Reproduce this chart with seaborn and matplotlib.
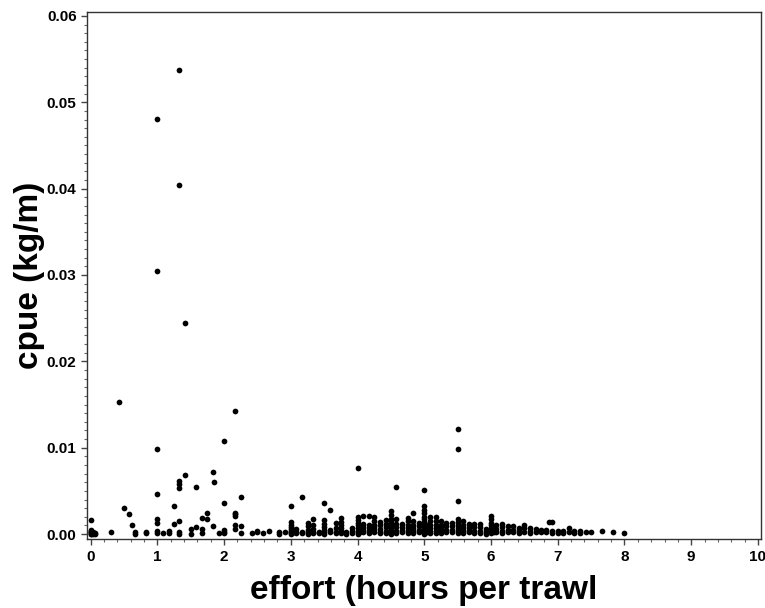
import matplotlib
matplotlib.use("Agg")
import matplotlib.pyplot as plt
from matplotlib.ticker import MultipleLocator, FormatStrFormatter
import seaborn as sns
import pandas as pd

# efforts below 3 h (sparse trawls)
low_effort = [0.0, 0.0, 0.0, 0.0, 0.0, 0.0, 0.0, 0.0, 0.03, 0.03, 0.03, 0.06, 0.06,
              0.31, 0.42, 0.5, 0.58, 0.62, 0.67, 0.67, 0.83, 0.83,
              1.0, 1.0, 1.0, 1.0, 1.0, 1.0, 1.0, 1.0, 1.08, 1.17, 1.17, 1.25, 1.25,
              1.33, 1.33, 1.33, 1.33, 1.33, 1.33, 1.33, 1.33, 1.42, 1.42, 1.5, 1.5,
              1.58, 1.58, 1.67, 1.67, 1.67, 1.75, 1.75, 1.83, 1.83, 1.85, 1.92,
              2.0, 2.0, 2.0, 2.0, 2.0, 2.17, 2.17, 2.17, 2.17, 2.17, 2.17, 2.25, 2.25, 2.25,
              2.42, 2.5, 2.5, 2.58, 2.67, 2.83, 2.83, 2.92]
low_cpue = [0.0016, 0.0005, 0.0004, 0.0003, 0.0002, 0.0001, 0.0, 0.0, 0.0002, 0.0001, 0.0, 0.0001, 0.0,
            0.0003, 0.0153, 0.0030, 0.0023, 0.0011, 0.0003, 0.0, 0.0002, 0.0001,
            0.0481, 0.0305, 0.0099, 0.0047, 0.0017, 0.0013, 0.0004, 0.0001, 0.0001, 0.0004, 0.0001, 0.0033, 0.0012,
            0.0537, 0.0404, 0.0061, 0.0058, 0.0053, 0.0015, 0.0002, 0.0, 0.0244, 0.0068, 0.0006, 0.0,
            0.0054, 0.0008, 0.0019, 0.0006, 0.0001, 0.0025, 0.0018, 0.0072, 0.0009, 0.0060, 0.0001,
            0.0108, 0.0036, 0.0005, 0.0003, 0.0001, 0.0143, 0.0025, 0.0023, 0.0021, 0.0011, 0.0006, 0.0043, 0.0009, 0.0001,
            0.0001, 0.0004, 0.0003, 0.0001, 0.0004, 0.0002, 0.0, 0.0002]

# efforts of 3 h and more, one column of catches per effort value
band_effort = [3.0, 3.04, 3.08, 3.17, 3.25, 3.33, 3.42, 3.5, 3.58, 3.67, 3.75, 3.83, 3.92,
               4.0, 4.04, 4.08, 4.17, 4.25, 4.33, 4.42, 4.5, 4.57, 4.67, 4.75, 4.83, 4.92,
               5.0, 5.04, 5.08, 5.17, 5.25, 5.33, 5.42, 5.5, 5.58, 5.67, 5.75, 5.83, 5.92,
               6.0, 6.04, 6.08, 6.17, 6.25, 6.33, 6.42, 6.5, 6.58, 6.67, 6.75, 6.83, 6.87, 6.92,
               7.0, 7.08, 7.17, 7.25, 7.33, 7.42, 7.5, 7.67, 7.83, 8.0]
band_cpue = [
    [0.0033, 0.0014, 0.0011, 0.0008, 0.0006, 0.0004, 0.0002, 0.0001, 0.0],
    [0.0005, 0.0002],
    [0.0006, 0.0003, 0.0001],
    [0.0043, 0.0003, 0.0001],
    [0.0013, 0.0009, 0.0005, 0.0002, 0.0],
    [0.0018, 0.0011, 0.0006, 0.0003, 0.0001],
    [0.0003, 0.0001],
    [0.0036, 0.0016, 0.0012, 0.0008, 0.0005, 0.0002, 0.0],
    [0.0028, 0.0005, 0.0002],
    [0.0013, 0.0007, 0.0003, 0.0001],
    [0.0019, 0.0014, 0.0011, 0.0007, 0.0004, 0.0001],
    [0.0002, 0.0],
    [0.0007, 0.0004, 0.0001],
    [0.0077, 0.0020, 0.0016, 0.0013, 0.0010, 0.0007, 0.0004, 0.0002, 0.0],
    [0.0008, 0.0005, 0.0002],
    [0.0021, 0.0012, 0.0008, 0.0005, 0.0002],
    [0.0021, 0.0011, 0.0007, 0.0004, 0.0001],
    [0.0020, 0.0015, 0.0011, 0.0008, 0.0005, 0.0002],
    [0.0014, 0.0010, 0.0006, 0.0003, 0.0001],
    [0.0016, 0.0012, 0.0008, 0.0004, 0.0001],
    [0.0027, 0.0022, 0.0018, 0.0014, 0.0011, 0.0008, 0.0005, 0.0002, 0.0],
    [0.0054, 0.0017, 0.0012, 0.0008, 0.0004, 0.0001],
    [0.0012, 0.0008, 0.0005, 0.0002],
    [0.0019, 0.0015, 0.0011, 0.0007, 0.0004, 0.0001],
    [0.0025, 0.0015, 0.0011, 0.0007, 0.0004, 0.0001],
    [0.0013, 0.0009, 0.0005, 0.0002],
    [0.0051, 0.0032, 0.0028, 0.0024, 0.0020, 0.0017, 0.0014, 0.0011, 0.0008, 0.0005, 0.0002, 0.0],
    [0.0010, 0.0006, 0.0003],
    [0.0020, 0.0015, 0.0011, 0.0007, 0.0004, 0.0001],
    [0.0020, 0.0015, 0.0011, 0.0007, 0.0004, 0.0001],
    [0.0015, 0.0011, 0.0007, 0.0004, 0.0001],
    [0.0013, 0.0009, 0.0005, 0.0002],
    [0.0013, 0.0009, 0.0005, 0.0002],
    [0.0122, 0.0099, 0.0038, 0.0018, 0.0014, 0.0010, 0.0007, 0.0004, 0.0001],
    [0.0015, 0.0011, 0.0007, 0.0004, 0.0001],
    [0.0012, 0.0008, 0.0005, 0.0002],
    [0.0012, 0.0008, 0.0004, 0.0001],
    [0.0012, 0.0008, 0.0004, 0.0001],
    [0.0006, 0.0003, 0.0],
    [0.0021, 0.0017, 0.0013, 0.0010, 0.0007, 0.0004, 0.0001],
    [0.0006, 0.0003],
    [0.0010, 0.0006, 0.0003],
    [0.0012, 0.0008, 0.0004, 0.0001],
    [0.0009, 0.0005, 0.0002],
    [0.0009, 0.0005, 0.0002],
    [0.0007, 0.0004, 0.0001],
    [0.0011, 0.0007, 0.0003],
    [0.0007, 0.0004, 0.0001],
    [0.0006, 0.0003],
    [0.0005, 0.0002],
    [0.0005, 0.0002],
    [0.0014],
    [0.0014, 0.0004, 0.0001],
    [0.0004, 0.0001],
    [0.0004, 0.0001],
    [0.0007, 0.0003],
    [0.0004, 0.0001],
    [0.0004, 0.0001],
    [0.0003],
    [0.0003],
    [0.0004],
    [0.0003],
    [0.0001],
]

x_ticks = list(range(0, 11))
y_ticks = [0.00, 0.01, 0.02, 0.03, 0.04, 0.05, 0.06]

# Build one table of trawls
effort = list(low_effort)
cpue = list(low_cpue)
for e, vals in zip(band_effort, band_cpue):
    effort += [e] * len(vals)
    cpue += vals
df = pd.DataFrame({'effort': effort, 'cpue': cpue})

sns.set_style('ticks')
plt.rcParams['font.family'] = ['Liberation Sans', 'DejaVu Sans']
plt.rcParams['font.weight'] = 'bold'
plt.rcParams['text.color'] = 'black'
plt.rcParams['axes.labelcolor'] = 'black'
plt.rcParams['xtick.labelcolor'] = 'black'
plt.rcParams['ytick.labelcolor'] = 'black'

fig = plt.figure(figsize=(7.65, 6.08), dpi=100)
ax = fig.add_axes([0.1137, 0.113, 0.881, 0.868])

sns.scatterplot(data=df, x='effort', y='cpue', ax=ax, color='black',
                s=17, linewidth=0, marker='o')

ax.set_xlim(-0.055, 10.045)
ax.set_ylim(-0.0006, 0.0605)
ax.set_xticks(x_ticks)
ax.set_yticks(y_ticks)
ax.xaxis.set_minor_locator(MultipleLocator(0.2))
ax.yaxis.set_minor_locator(MultipleLocator(0.001))
ax.yaxis.set_major_formatter(FormatStrFormatter('%.2f'))
ax.tick_params(which='major', direction='out', length=4.5, width=1, color='#444444',
               labelsize=11, pad=3, labelcolor='black')
ax.tick_params(which='minor', direction='out', length=2.5, width=0.8, color='#666666')
for lab in ax.get_xticklabels() + ax.get_yticklabels():
    lab.set_fontweight('bold')

for sp in ax.spines.values():
    sp.set_visible(True)
    sp.set_color('#333333')
    sp.set_linewidth(1)

ax.set_xlabel('effort (hours per trawl', fontsize=24, fontweight='bold',
              labelpad=8, color='black')
ax.set_ylabel('cpue (kg/m)', fontsize=24, fontweight='bold',
              labelpad=1.5, color='black')

fig.savefig('out.png', dpi=100)
